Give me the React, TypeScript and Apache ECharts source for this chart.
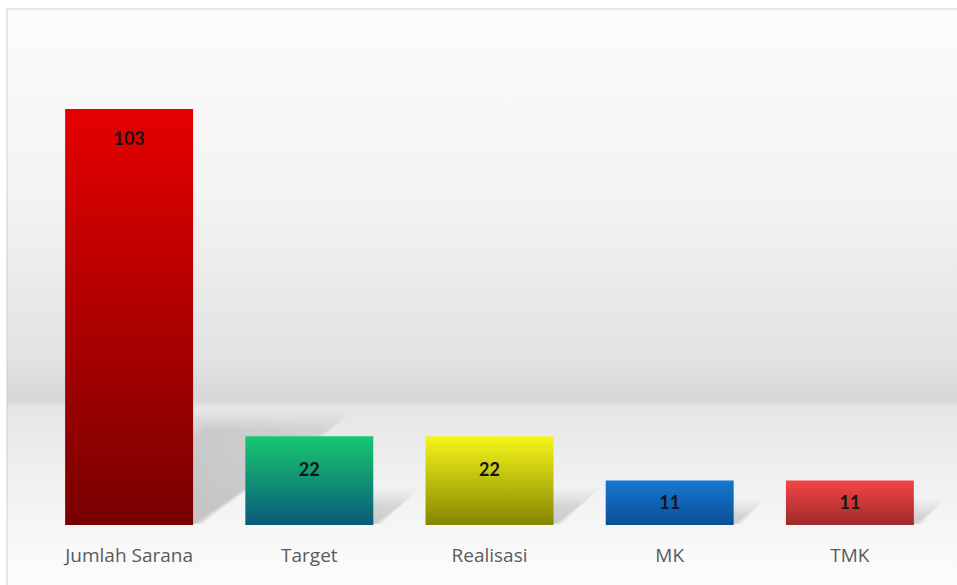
import React, { useEffect, useRef } from "react";
import * as echarts from "echarts";

const categories = ["Jumlah Sarana", "Target", "Realisasi", "MK", "TMK"];
const values = [103, 22, 22, 11, 11];
const topColors = ["#e60000", "#18c870", "#f6f61c", "#1478d2", "#f24646"];
const bottomColors = ["#780000", "#0a5a7a", "#858500", "#0a4f96", "#a02a2a"];
const labelDistances = [20, 24, 24, 12, 12];

export default function App() {
  const ref = useRef<HTMLDivElement>(null);

  useEffect(() => {
    document.body.style.margin = "0";
    const chart = echarts.init(ref.current!, null, { renderer: "svg" });
    const grad = (a: string, b: string) =>
      new echarts.graphic.LinearGradient(0, 0, 0, 1, [
        { offset: 0, color: a },
        { offset: 1, color: b },
      ]);

    chart.setOption({
      animation: false,
      backgroundColor: "#ffffff",
      graphic: [
        {
          type: "rect",
          z: -10,
          shape: { x: 7, y: 9, width: 1000, height: 640 },
          style: {
            fill: new echarts.graphic.LinearGradient(0, 0, 0, 1, [
              { offset: 0, color: "#fcfcfc" },
              { offset: 0.3, color: "#f3f3f3" },
              { offset: 0.55, color: "#e2e2e2" },
              { offset: 0.611, color: "#d7d7d7" },
              { offset: 0.62, color: "#e5e5e5" },
              { offset: 0.72, color: "#efefef" },
              { offset: 0.86, color: "#fafafa" },
              { offset: 1, color: "#fdfdfd" },
            ]),
            stroke: "#cdcdcd",
            lineWidth: 1,
          },
        },
      ],
      grid: { left: 39, right: 17, top: 109, bottom: 60 },
      xAxis: {
        type: "category",
        data: categories,
        axisLine: { show: false },
        axisTick: { show: false },
        axisLabel: {
          color: "#5a5a5a",
          fontSize: 19,
          fontFamily: "Open Sans",
          margin: 20,
        },
      },
      yAxis: {
        type: "value",
        min: 0,
        max: 103,
        show: false,
        splitLine: { show: false },
      },
      series: [
        {
          type: "custom",
          z: 1,
          data: values.map((v, i) => [i, v]),
          encode: { x: 0, y: 1 },
          renderItem: (params: any, api: any) => {
            const idx = api.value(0);
            const val = api.value(1);
            const base = api.coord([idx, 0]);
            const top = api.coord([idx, val]);
            const half = api.size([1, 0])[0] * 0.355;
            const h = base[1] - top[1];
            const dx = h * 0.34;
            const dy = h * 0.23;
            const xL = base[0] - half;
            const xR = base[0] + half;
            const yB = base[1] - 1;
            const children: any[] = [];
            for (let k = 0; k < 6; k++) {
              const e = (5 - k) * 3;
              children.push({
                type: "polygon",
                shape: {
                  points: [
                    [xL + 4, yB],
                    [xR + e * 0.6, yB],
                    [xR + dx + e, yB - dy - e],
                    [xL + dx - e, yB - dy - e],
                  ],
                },
                style: {
                  fill: new echarts.graphic.LinearGradient(0, 1, 1, 0, [
                    { offset: 0, color: "rgba(0,0,0,0.045)" },
                    { offset: 1, color: "rgba(0,0,0,0.015)" },
                  ]),
                },
              });
            }
            return { type: "group", children };
          },
        },
        {
          type: "bar",
          z: 2,
          barCategoryGap: "29%",
          data: values.map((v, i) => ({
            value: v,
            itemStyle: { color: grad(topColors[i], bottomColors[i]) },
            label: { distance: labelDistances[i] },
          })),
          label: {
            show: true,
            position: "insideTop",
            color: "#161616",
            fontSize: 18,
            fontWeight: "bold",
            fontFamily: "Lato",
          },
        },
      ],
    });
    return () => chart.dispose();
  }, []);

  return (
    <div
      ref={ref}
      style={{ width: 957, height: 585, position: "absolute", left: 0, top: 0 }}
    />
  );
}
